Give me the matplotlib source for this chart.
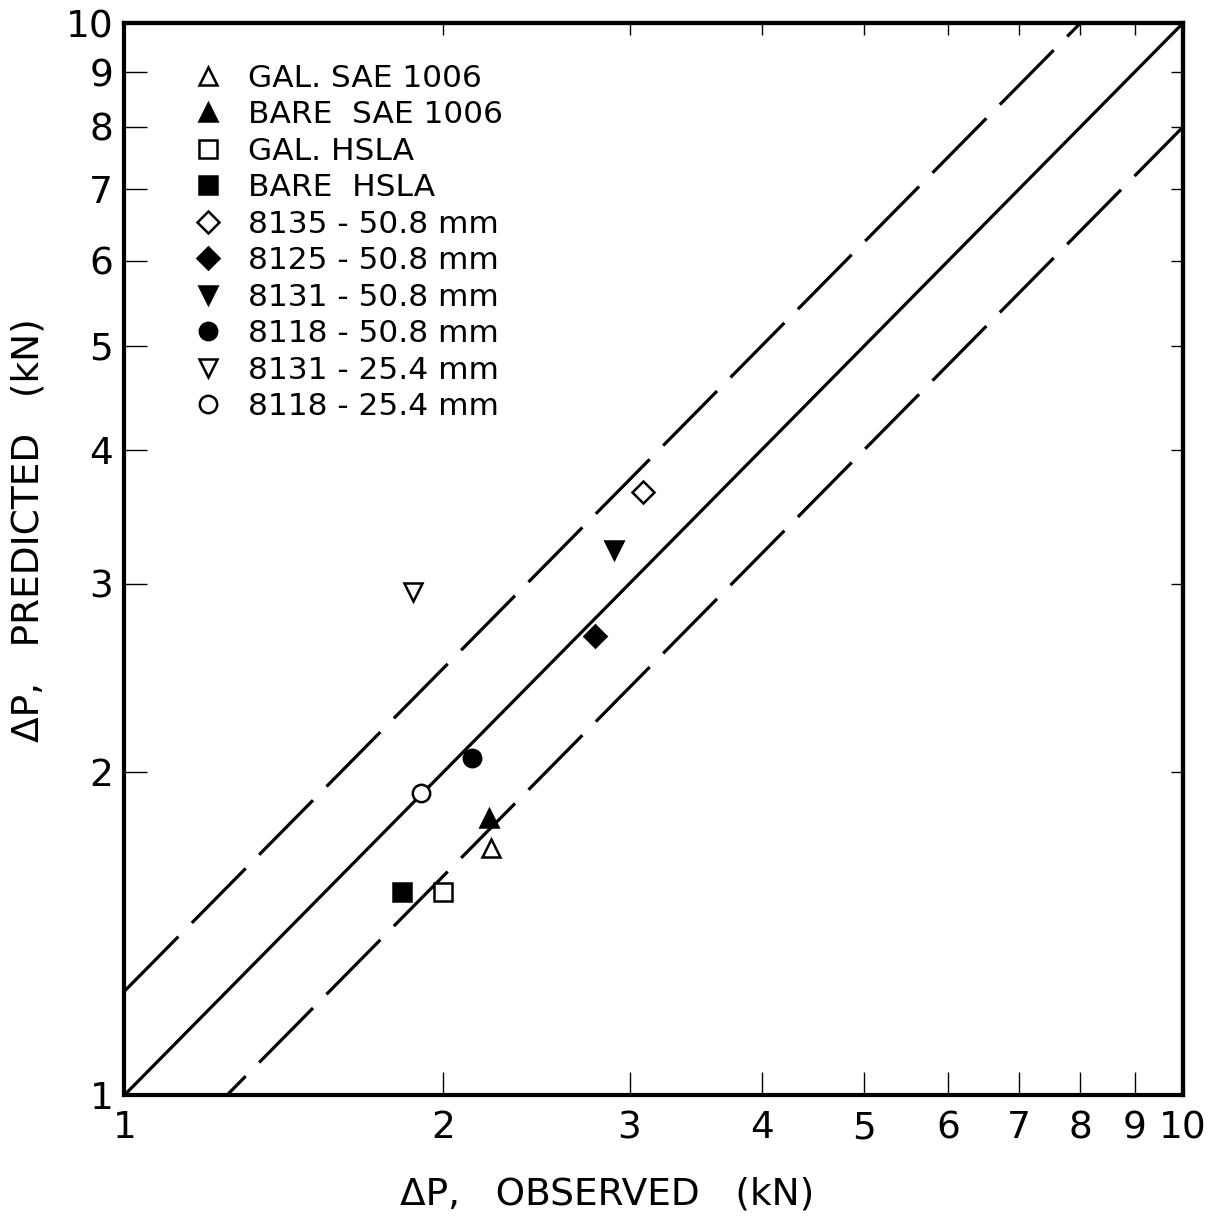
import matplotlib
matplotlib.use("Agg")
import matplotlib.pyplot as plt
from matplotlib.ticker import NullLocator

# ---------------- data ----------------
series_labels = ["GAL. SAE 1006", "BARE  SAE 1006", "GAL. HSLA", "BARE  HSLA",
                 "8135 - 50.8 mm", "8125 - 50.8 mm", "8131 - 50.8 mm",
                 "8118 - 50.8 mm", "8131 - 25.4 mm", "8118 - 25.4 mm"]
observed = [2.22, 2.21, 2.00, 1.83, 3.09, 2.78, 2.90, 2.13, 1.875, 1.905]
predicted = [1.70, 1.815, 1.546, 1.546, 3.654, 2.683, 3.225, 2.062, 2.948, 1.914]
marker_shapes = ['^', '^', 's', 's', 'D', 'D', 'v', 'o', 'v', 'o']
marker_filled = [False, True, False, True, False, True, True, True, False, False]

band_factor = 1.25          # +/- 25 % scatter band
axis_limits = [1, 10]
tick_values = [1, 2, 3, 4, 5, 6, 7, 8, 9, 10]
tick_labels = ['1', '2', '3', '4', '5', '6', '7', '8', '9', '10']
x_label = "ΔP,   OBSERVED   (kN)"
y_label = "ΔP,   PREDICTED   (kN)"

# ---------------- figure ----------------
plt.rcParams['font.family'] = ['DejaVu Sans']
fig = plt.figure(figsize=(12.18, 12.19), dpi=100)
ax = fig.add_axes([0.1022, 0.1017, 0.8691, 0.8794])
ax.set_xscale('log')
ax.set_yscale('log')
ax.set_xlim(axis_limits)
ax.set_ylim(axis_limits)

# reference lines
line_x = [axis_limits[0], axis_limits[1]]
ax.plot(line_x, [v for v in line_x], color='black', lw=2.3, zorder=2)
ax.plot(line_x, [v * band_factor for v in line_x], color='black', lw=2.3,
        dashes=(24, 6), zorder=2)
ax.plot(line_x, [v / band_factor for v in line_x], color='black', lw=2.3,
        dashes=(24, 6), zorder=2)

# data points
for lab, xo, yp, m, f in zip(series_labels, observed, predicted,
                             marker_shapes, marker_filled):
    ms = 11 if m == 'D' else 12.5
    ax.plot([xo], [yp], linestyle='none', marker=m, markersize=ms,
            markerfacecolor='black' if f else 'white',
            markeredgecolor='black', markeredgewidth=1.8,
            label=lab, zorder=4)

# ticks
ax.set_xticks(tick_values, tick_labels)
ax.set_yticks(tick_values, tick_labels)
ax.xaxis.set_minor_locator(NullLocator())
ax.yaxis.set_minor_locator(NullLocator())
ax.tick_params(axis='both', direction='in', length=16.5, width=1.0,
               labelsize=27, colors='black')
ax.tick_params(axis='x', pad=11)
ax.tick_params(axis='y', pad=8)
for s in ax.spines.values():
    s.set_linewidth(3.0)

secx = ax.secondary_xaxis('top')
secx.set_xticks(tick_values, [''] * len(tick_values))
secx.xaxis.set_minor_locator(NullLocator())
secx.tick_params(direction='in', length=8.5, width=1.0)
secx.spines['top'].set_linewidth(3.0)

secy = ax.secondary_yaxis('right')
secy.set_yticks(tick_values, [''] * len(tick_values))
secy.yaxis.set_minor_locator(NullLocator())
secy.tick_params(direction='in', length=8.5, width=1.0)
secy.spines['right'].set_linewidth(3.0)

# legend
ax.legend(loc='upper left', bbox_to_anchor=(0.0638, 0.962), frameon=False,
          fontsize=22.5, handlelength=1.0, handletextpad=0.78,
          labelspacing=0.24, borderpad=0, borderaxespad=0, numpoints=1)

# axis titles
fig.text(607 / 1218, 1 - 1194 / 1219, x_label, ha='center', va='center',
         fontsize=27)
fig.text(29 / 1218, 1 - 530 / 1219, y_label, ha='center', va='center',
         rotation=90, fontsize=27)

fig.savefig("out.png", dpi=100, facecolor='white')
